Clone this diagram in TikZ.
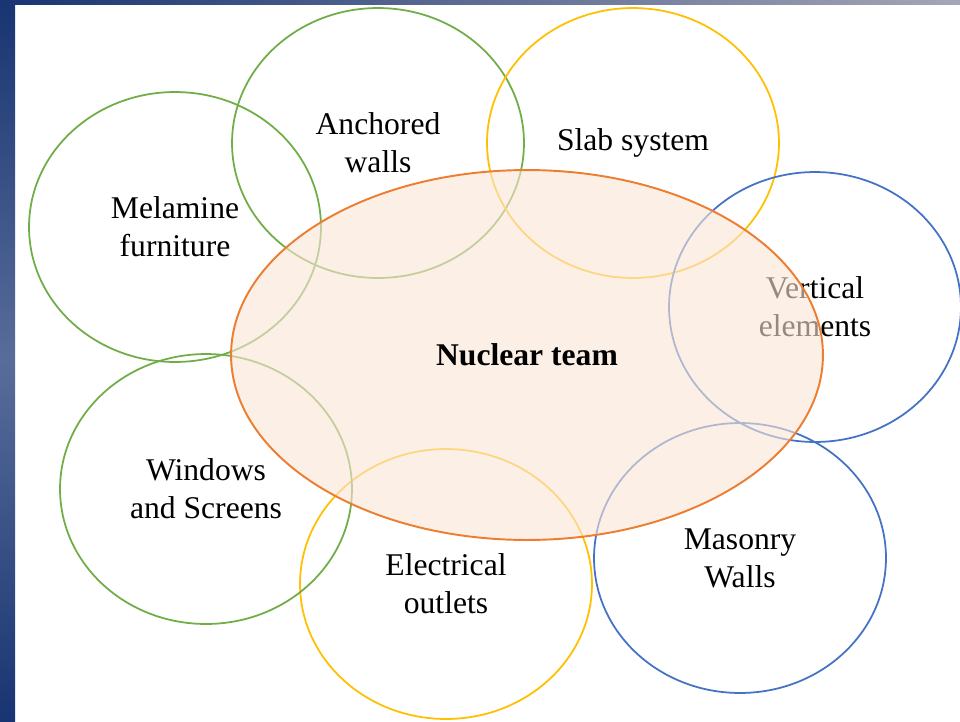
\documentclass[tikz,border=0pt]{standalone}
\usepackage{fontspec}
\setmainfont{Liberation Serif}
\usetikzlibrary{shapes.geometric}

\definecolor{leafgreen}{HTML}{70AD47}
\definecolor{goldline}{HTML}{FFC000}
\definecolor{steelline}{HTML}{4472C4}
\definecolor{rustline}{HTML}{ED7D31}
\definecolor{peachfill}{HTML}{FBE5D6}
\definecolor{navyband}{RGB}{24,52,114}
\definecolor{greyband}{RGB}{165,166,182}

\tikzset{
  topic/.style={ellipse, draw=#1, line width=1pt, inner sep=0pt,
    minimum width=5.84cm, minimum height=5.4cm, align=center,
    font=\fontsize{18}{21.6}\selectfont},
  core/.style={ellipse, draw=rustline, line width=1.1pt, fill=peachfill,
    fill opacity=0.6, text opacity=1, inner sep=0pt,
    minimum width=11.84cm, minimum height=7.4cm,
    font=\fontsize{18}{21.6}\selectfont\bfseries}
}

\begin{document}
\begin{tikzpicture}[x=0.02cm, y=-0.02cm]
        % Slide background
        \useasboundingbox (0,0) rectangle (960,721);
        \fill[white] (0,0) rectangle (960,721);
        \shade[top color=navyband, bottom color=navyband,
          middle color=navyband!72!white] (0,0) rectangle (15,721);
        \shade[left color=navyband, right color=greyband] (0,0) rectangle (960,4);

        % Circles round the team
        \node[topic=leafgreen] (melamine) at (175,227) {Melamine\\furniture};
        \node[topic=leafgreen] (anchored) at (378,143) {Anchored\\walls};
        \node[topic=goldline] (slab) at (633,143) {Slab system};
        \node[topic=steelline] (vertical) at (815,307) {Vertical\\elements};
        \node[topic=steelline] (masonry) at (740,558) {Masonry\\Walls};
        \node[topic=goldline] (outlets) at (446,584) {Electrical\\outlets};
        \node[topic=leafgreen] (windows) at (206,489) {Windows\\and Screens};

        % Nuclear team, drawn over the circles
        \node[core] (nuclear) at (527,355) {Nuclear team};
      \end{tikzpicture}
\end{document}
